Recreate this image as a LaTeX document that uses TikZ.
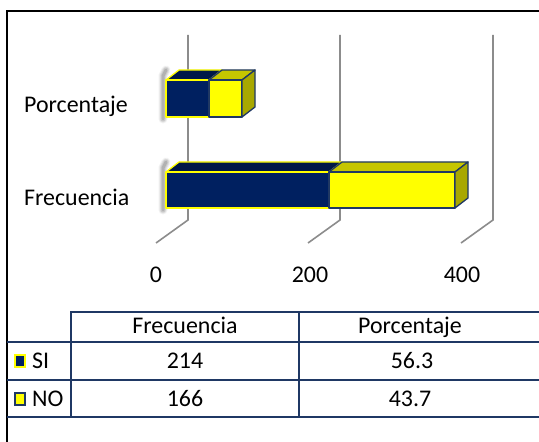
\documentclass[tikz,border=0pt]{standalone}
\usepackage{fontspec}
\setmainfont{Carlito}
\definecolor{navy}{HTML}{002060}
\definecolor{navytop}{HTML}{001848}
\definecolor{ylw}{HTML}{FFFF00}
\definecolor{ylwtop}{HTML}{C6C600}
\definecolor{ylwside}{HTML}{A8A800}
\definecolor{tline}{HTML}{1F3864}
\definecolor{grid}{HTML}{8C8C8C}
\definecolor{txt}{HTML}{000000}
\newcommand\mybarseg[7]{%
  % #1 x1, #2 x2, #3 ytop, #4 ybot, #5 front, #6 top, #7 edge
  \filldraw[fill=#6,draw=#7,line width=1.3bp,line join=round] (#1,#3) -- ++(13,-10) -- (#2+13,#3-10) -- (#2,#3) -- cycle;
  \filldraw[fill=#5,draw=#7,line width=1.3bp,line join=round] (#1,#3) rectangle (#2,#4);
}
\newcommand\mybarside[4]{%
  % #1 x, #2 ytop, #3 ybot, #4 edge
  \filldraw[fill=ylwside,draw=#4,line width=1.3bp,line join=round] (#1,#2) -- ++(13,-10) -- (#1+13,#3-10) -- (#1,#3) -- cycle;
}
\newcommand\myshadow[2]{%
  \foreach \w/\o in {9/0.05,7/0.07,5/0.09,3/0.12}{
    \draw[line width=\w bp,black,opacity=\o,line cap=round] (166,#1-10) -- (163,#1-4) -- (163,#2+2);
  }
}
\begin{document}
\begin{tikzpicture}[x=1bp,y=-1bp,
  lbl/.style={font=\fontsize{24}{28}\selectfont,text=txt,inner sep=0pt},
  gridline/.style={draw=grid,line width=1.6bp},
  tbl/.style={draw=tline,line width=1.6bp},
  frame/.style={draw=black,line width=1.5bp}]
\useasboundingbox (0,0) rectangle (539,442);
\fill[white] (0,0) rectangle (539,442);
% frame
\draw[frame] (7,442) -- (7,11) -- (539,11);
% gridlines
\coordinate (g0t) at (188,35); \coordinate (g0b) at (188,220); \coordinate (g0f) at (156,243);
\coordinate (g1t) at (340,35); \coordinate (g1b) at (340,220); \coordinate (g1f) at (308,243);
\coordinate (g2t) at (493,35); \coordinate (g2b) at (493,220); \coordinate (g2f) at (461,243);
\draw[gridline] (g0t) -- (g0b) -- (g0f);
\draw[gridline] (g1t) -- (g1b) -- (g1f);
\draw[gridline] (g2t) -- (g2b) -- (g2f);
% shadows
\myshadow{80}{117}
\myshadow{172}{208}
% Porcentaje bar
\mybarseg{166}{209}{80}{117}{navy}{navytop}{ylw}
\mybarseg{209}{242}{80}{117}{ylw}{ylwtop}{tline}
\mybarside{242}{80}{117}{tline}
% Frecuencia bar
\mybarseg{166}{329}{172}{208}{navy}{navytop}{ylw}
\mybarseg{329}{455}{172}{208}{ylw}{ylwtop}{tline}
\mybarside{455}{172}{208}{tline}
% category labels
\node[lbl,anchor=base west] (cp) at (24,113) {Porcentaje};
\node[lbl,anchor=base west] (cf) at (24,206) {Frecuencia};
% axis labels
\node[lbl,anchor=base] (a0) at (156,282) {0};
\node[lbl,anchor=base] (a1) at (310,282) {200};
\node[lbl,anchor=base] (a2) at (462,282) {400};
% table
\draw[tbl] (71,417) -- (71,312) -- (539,312);
\draw[tbl] (7,342) -- (539,342);
\draw[tbl] (7,380) -- (539,380);
\draw[tbl] (7,417) -- (539,417);
\draw[tbl] (299,312) -- (299,417);
\node[lbl,anchor=base] (hf) at (185,333) {Frecuencia};
\node[lbl,anchor=base] (hp) at (410,333) {Porcentaje};
\node[lbl,anchor=base] (v1) at (185,368) {214};
\node[lbl,anchor=base] (v2) at (412,368) {56.3};
\node[lbl,anchor=base] (v3) at (185,406) {166};
\node[lbl,anchor=base] (v4) at (410,406) {43.7};
% legend
\filldraw[fill=navy,draw=ylw,line width=1.5bp] (15,355) rectangle (25,367);
\node[lbl,anchor=base west] (ls) at (32,368) {SI};
\filldraw[fill=ylw,draw=tline,line width=1.5bp] (15,393) rectangle (25,405);
\node[lbl,anchor=base west] (ln) at (32,406) {NO};
\end{tikzpicture}
\end{document}
